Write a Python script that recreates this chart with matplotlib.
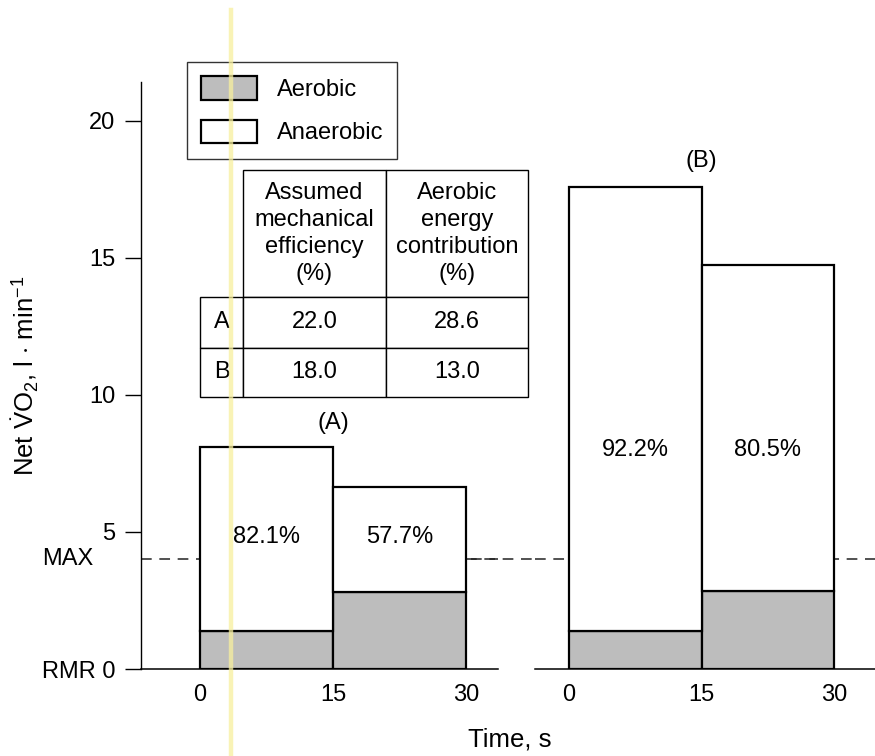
import matplotlib
matplotlib.use("Agg")
import matplotlib.pyplot as plt
from matplotlib.patches import Patch
from matplotlib.lines import Line2D

# ==========================
# DATOS
# ==========================
time_edges = [0, 15]            # inicio de cada intervalo (s)
bar_width = 15

# (A) eficiencia 22.0 %
a_total = [8.1, 6.65]
a_aerobic = [1.4, 2.8]
a_labels = ["82.1%", "57.7%"]

# (B) eficiencia 18.0 %
b_total = [17.6, 14.75]
b_aerobic = [1.4, 2.85]
b_labels = ["92.2%", "80.5%"]

max_level = 4.0
y_ticks = [0, 5, 10, 15, 20]
y_tick_labels = ["RMR 0", "5", "10", "15", "20"]
x_ticks = [0, 15, 30]

table_rows = ["", "A", "B"]
table_eff = ["Assumed\nmechanical\nefficiency\n(%)", "22.0", "18.0"]
table_aer = ["Aerobic\nenergy\ncontribution\n(%)", "28.6", "13.0"]

# ==========================
# ESTILO
# ==========================
plt.rcParams["font.family"] = ["Liberation Sans", "DejaVu Sans"]
plt.rcParams["mathtext.fontset"] = "custom"
plt.rcParams["mathtext.rm"] = "Liberation Sans"
plt.rcParams["mathtext.it"] = "Liberation Sans:italic"

FS = 17
GRAY = "#bdbdbd"
LW_BAR = 1.6
DASH_COLOR = "#222222"

W, H = 875, 756
fig = plt.figure(figsize=(W / 100, H / 100), dpi=100)


def px_box(x0, x1, ytop, ybot):
    return [x0 / W, 1 - ybot / H, (x1 - x0) / W, (ybot - ytop) / H]


ax_a = fig.add_axes(px_box(141, 498, 82, 669))
ax_b = fig.add_axes(px_box(535, 875, 82, 669))

ylim = (0, 21.42)
ax_a.set_xlim(-6.65, 33.6)
ax_b.set_xlim(-3.84, 34.6)


def draw_panel(ax, total, aerobic, labels, label_y, title, title_y):
    anaerobic = [t - a for t, a in zip(total, aerobic)]
    ax.axhline(max_level, color=DASH_COLOR, lw=1.1, dashes=(7, 5), zorder=1)
    ax.bar(time_edges, aerobic, width=bar_width, align="edge",
           color=GRAY, edgecolor="black", linewidth=LW_BAR, zorder=3)
    ax.bar(time_edges, anaerobic, bottom=aerobic, width=bar_width, align="edge",
           color="white", edgecolor="black", linewidth=LW_BAR, zorder=3)
    for x, lab in zip(time_edges, labels):
        ax.text(x + bar_width / 2, label_y, lab, ha="center", va="center",
                fontsize=FS, zorder=4)
    ax.text(15, title_y, title, ha="center", va="center", fontsize=FS)
    ax.set_ylim(*ylim)
    ax.set_xticks(x_ticks)
    ax.tick_params(axis="x", length=0, pad=11, labelsize=FS)
    for s in ["top", "right"]:
        ax.spines[s].set_visible(False)
    ax.spines["bottom"].set_linewidth(1.1)
    ax.patch.set_alpha(0)


draw_panel(ax_a, a_total, a_aerobic, a_labels, 4.8, "(A)", 8.98)
draw_panel(ax_b, b_total, b_aerobic, b_labels, 8.0, "(B)", 18.55)

# dashed MAX line across the gap between panels
ax_a.plot([30, 38], [max_level, max_level], color=DASH_COLOR, lw=1.1,
          dashes=(7, 5), clip_on=False, zorder=1)

# left axis
ax_a.set_yticks(y_ticks)
ax_a.set_yticklabels(y_tick_labels)
ax_a.tick_params(axis="y", length=11.5, width=1.0, pad=7, labelsize=FS)
ax_a.spines["left"].set_linewidth(1.0)
ax_a.set_ylabel(r"Net $\mathrm{\dot{V}}$O$_2$, l $\cdot$ min$^{-1}$", fontsize=18.5)
ax_a.yaxis.set_label_coords(-0.28, 0.5)
ax_a.text(-0.134, max_level, "MAX", fontsize=FS, ha="right", va="center",
          transform=ax_a.get_yaxis_transform())

ax_b.spines["left"].set_visible(False)
ax_b.set_yticks([])

fig.text(510 / W, 1 - 740 / H, "Time, s", ha="center", va="center", fontsize=18.5)

# legend
handles = [Patch(facecolor=GRAY, edgecolor="black", linewidth=LW_BAR, label="Aerobic"),
           Patch(facecolor="white", edgecolor="black", linewidth=LW_BAR, label="Anaerobic")]
leg = fig.legend(handles=handles, loc="upper left",
                 bbox_to_anchor=(187 / W, 1 - 62 / H), borderaxespad=0,
                 fontsize=FS, frameon=True, fancybox=False, edgecolor="black",
                 handlelength=2.35, handleheight=1.15, handletextpad=0.85,
                 labelspacing=0.8, borderpad=0.6)
leg.get_frame().set_linewidth(1.0)

# table
cell_text = [[r, e, a] for r, e, a in zip(table_rows, table_eff, table_aer)]
x0 = (200 - 141) / 357
x1 = (528 - 141) / 357
y0 = (669 - 397) / 587
y1 = (669 - 170) / 587
tbl = ax_a.table(cellText=cell_text, cellLoc="center",
                 bbox=[x0, y0, x1 - x0, y1 - y0], zorder=5)
tbl.auto_set_font_size(False)
tbl.set_fontsize(FS)
col_w = [43, 143, 142]
row_h = [127, 51, 49]
for (r, c), cell in tbl.get_celld().items():
    cell.set_width(col_w[c])
    cell.set_height(row_h[r])
    cell.set_linewidth(1.0)
    cell.set_facecolor("white")
    cell.get_text().set_linespacing(1.3)
tbl.get_celld()[(0, 0)].visible_edges = ""
tbl.get_celld()[(0, 0)].set_facecolor("none")
tbl.set_clip_on(False)

# yellow highlighter mark from the scan
fig.add_artist(Line2D([231 / W, 231 / W], [0, 1 - 10 / H], color="#f7ef9e",
                      lw=3.2, alpha=0.75, zorder=10))

fig.savefig("out.png", dpi=100)
